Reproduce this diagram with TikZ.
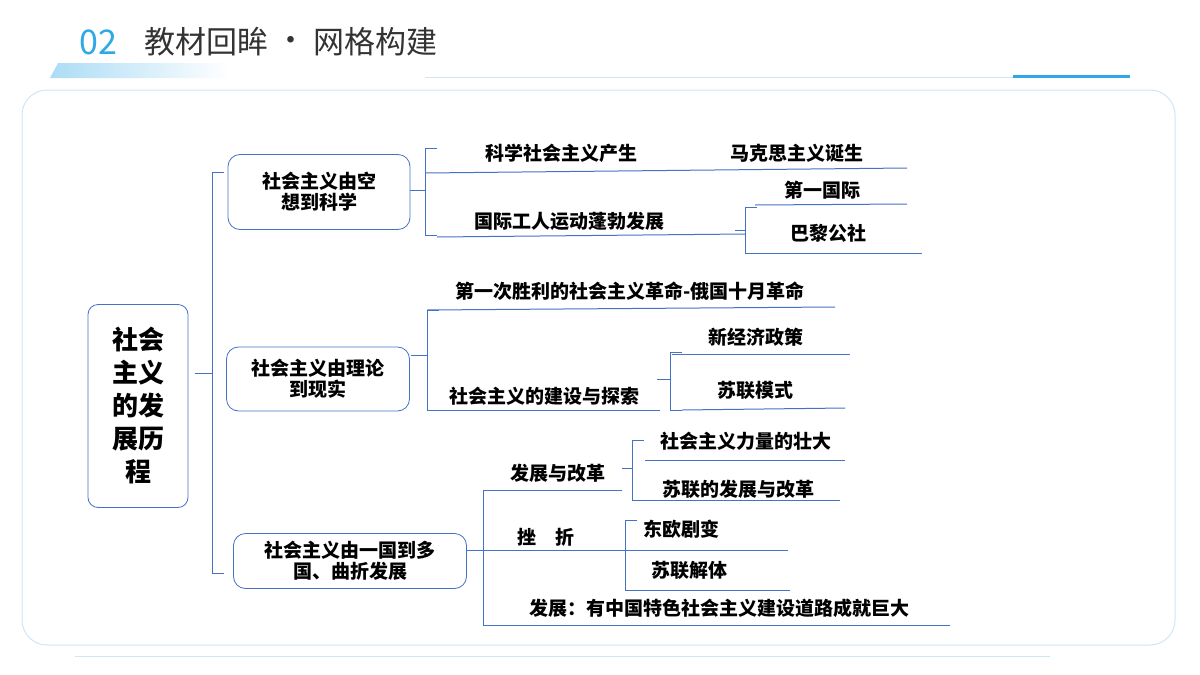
\documentclass[tikz,border=0pt]{standalone}
\usepackage{fontspec}
\setmainfont{Noto Sans CJK SC}
\newfontfamily\cjkb{Noto Sans CJK SC}[BoldFont={* Bold}]
\usetikzlibrary{positioning}
\definecolor{lnblue}{HTML}{4472C4}
\definecolor{skyb}{HTML}{2EA8E6}
\definecolor{paleb}{HTML}{CFE6F5}
\tikzset{
  lbl/.style={font=\bfseries\fontsize{19}{22}\selectfont, inner sep=0pt},
  box/.style={draw=lnblue, thick, rounded corners=12pt, align=center, font=\bfseries\fontsize{19}{21}\selectfont},
  ln/.style={draw=lnblue, line width=1pt}
}
% bracket: x, top, bottom, middle, stub start
\newcommand{\brak}[5]{%
  \draw[ln] (#1+12,#2) -- (#1,#2) -- (#1,#3) -- (#1+12,#3);
  \draw[ln] (#5,#4) -- (#1,#4);
}
\begin{document}
\begin{tikzpicture}[x=1pt,y=-1pt]
\useasboundingbox (0,0) rectangle (1200,675);
\fill[white] (0,0) rectangle (1200,675);

% header
\shade[left color=skyb!40, right color=white] (58,63) -- (230,63) -- (230,78) -- (50,78) -- cycle;
\node[font=\fontsize{34}{34}\selectfont, text=skyb, anchor=west] (num) at (76,42) {02};
\node[font=\fontsize{31}{31}\selectfont, text=black!80, anchor=west] (title) at (141,42) {教材回眸 \raisebox{2pt}{\textbullet} 网格构建};
\draw[paleb, line width=1pt] (425,77) -- (1130,77);
\draw[skyb, line width=3pt] (1013,76) -- (1130,76);

% panel
\draw[paleb, line width=1pt, rounded corners=25pt] (22,90) rectangle (1175,645);
\draw[paleb, line width=1pt] (75,656) -- (1050,656);

% root and boxes
\node[box, rounded corners=10pt, minimum width=100pt, minimum height=203pt, font=\bfseries\fontsize{26}{33}\selectfont] (root) at (138,406) {社会\\主义\\的发\\展历\\程};
\node[box, minimum width=182pt, minimum height=75pt] (b1) at (319,192) {社会主义由空\\想到科学};
\node[box, minimum width=183pt, minimum height=64pt] (b2) at (318,379) {社会主义由理论\\到现实};
\node[box, minimum width=233pt, minimum height=55pt] (b3) at (350,561) {社会主义由一国到多\\国、曲折发展};

\brak{212}{172}{573}{373}{195}

% branch 1
\brak{425}{148}{235}{190}{410}
\draw[ln] (425,173) -- (907,168);
\node[lbl] (k1) at (561,153) {科学社会主义产生};
\node[lbl] (k2) at (797,153) {马克思主义诞生};
\draw[ln] (437,237) -- (745,234);
\node[lbl] (k3) at (569,221) {国际工人运动蓬勃发展};
\brak{745}{207}{253}{230}{735}
\draw[ln] (755,205) -- (907,204);
\node[lbl] (k4) at (822,190) {第一国际};
\draw[ln] (755,253) -- (922,253);
\node[lbl] (k5) at (828,233) {巴黎公社};

% branch 2
\brak{427}{310}{410}{355}{411}
\draw[ln] (427,310) -- (835,307);
\node[lbl] (r1) at (630,291) {第一次胜利的社会主义革命-俄国十月革命};
\draw[ln] (427,410) -- (660,410);
\node[lbl] (r2) at (544,396) {社会主义的建设与探索};
\brak{670}{352}{410}{379}{657}
\draw[ln] (672,354) -- (850,354);
\node[lbl] (r3) at (756,337) {新经济政策};
\draw[ln] (682,410) -- (845,408);
\node[lbl] (r4) at (755,390) {苏联模式};

% branch 3
\brak{483}{490}{625}{550}{467}
\draw[ln] (483,490) -- (622,490);
\node[lbl] (g1) at (558,473) {发展与改革};
\brak{632}{440}{500}{468}{622}
\draw[ln] (645,460) -- (845,460);
\node[lbl] (g2) at (746,441) {社会主义力量的壮大};
\draw[ln] (632,500) -- (840,500);
\node[lbl] (g3) at (738,489) {苏联的发展与改革};
\draw[ln] (483,550) -- (612,550);
\node[lbl] (g4) at (546,537) {挫\quad 折};
\brak{625}{520}{590}{550}{612}
\draw[ln] (625,550) -- (788,550);
\node[lbl] (g5) at (681,529) {东欧剧变};
\draw[ln] (625,590) -- (790,590);
\node[lbl] (g6) at (689,570) {苏联解体};
\draw[ln] (483,625) -- (950,625);
\node[lbl] (g7) at (719,608) {发展：有中国特色社会主义建设道路成就巨大};
\end{tikzpicture}
\end{document}
